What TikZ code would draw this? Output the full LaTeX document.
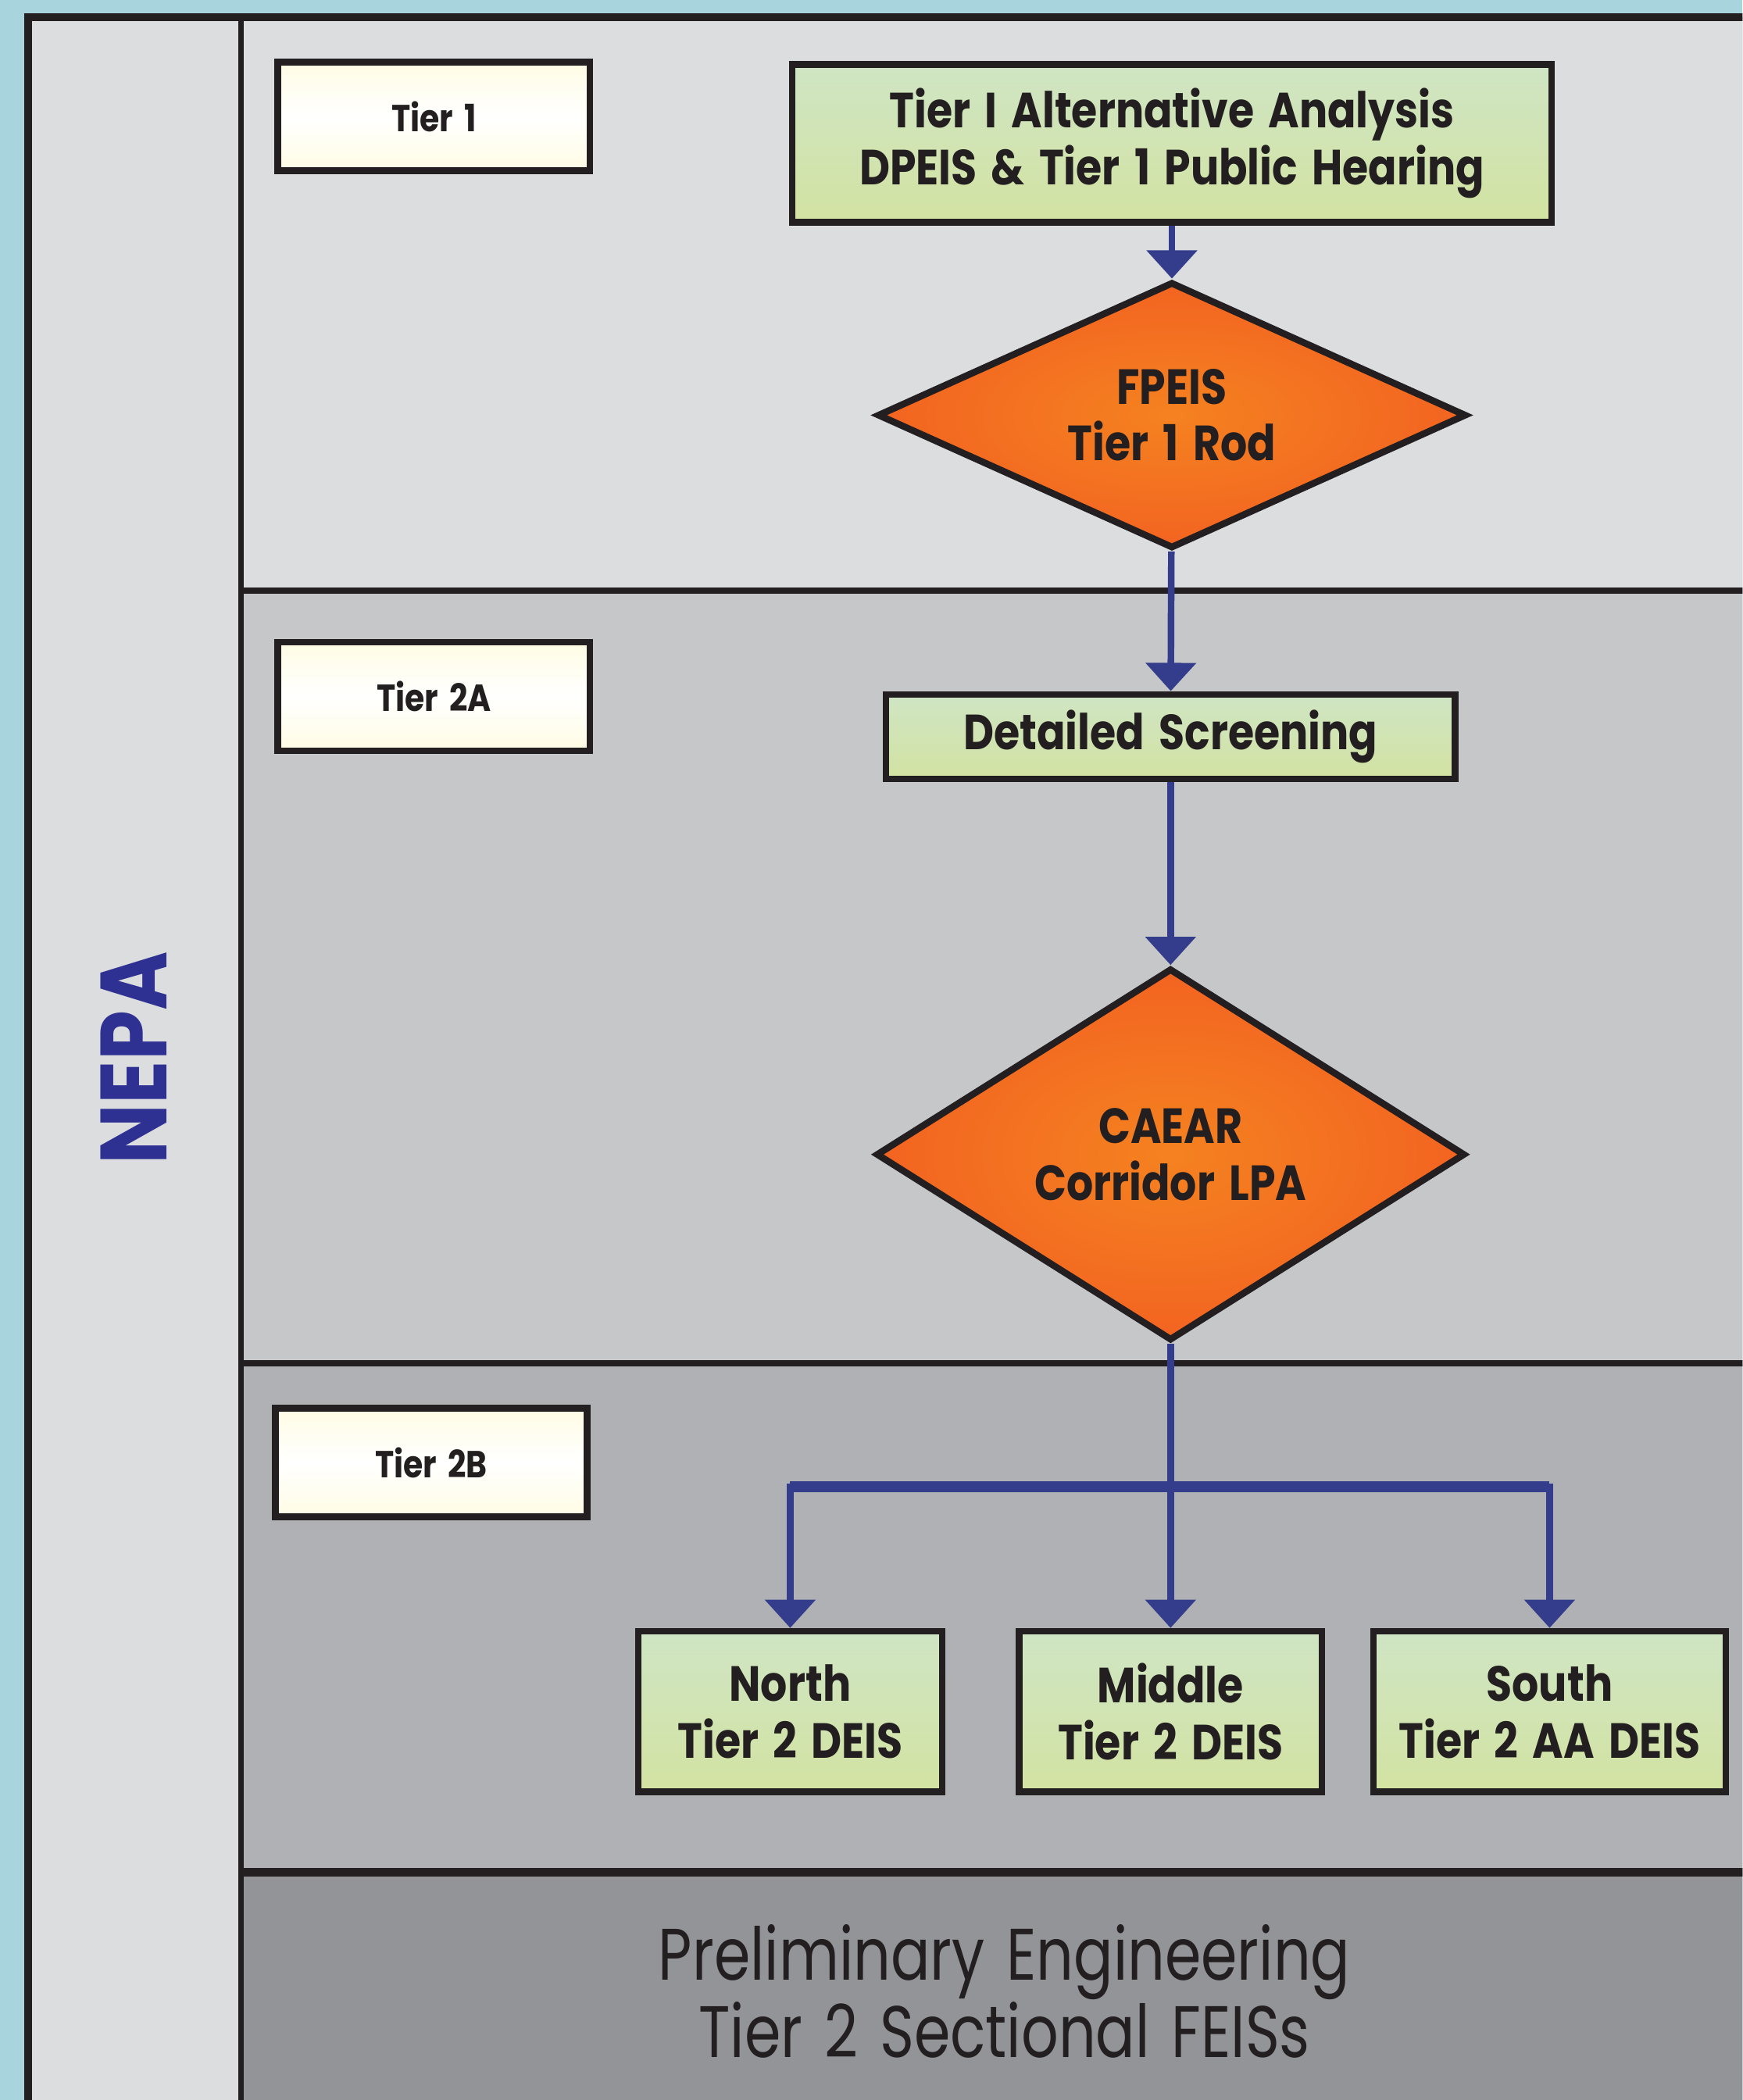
\documentclass[tikz,border=0pt]{standalone}
\usepackage{fontspec}
\setmainfont{Poppins}[FakeStretch=0.85, WordSpace=1.6]
\newfontfamily\condfont{Poppins}[FakeStretch=0.8, WordSpace=1.4]
\usetikzlibrary{shapes.geometric,arrows.meta}

\definecolor{skyblue}{HTML}{A8D4DE}
\definecolor{inkblack}{HTML}{231F20}
\definecolor{greyA}{HTML}{DCDDDF}
\definecolor{greyB}{HTML}{C6C7C9}
\definecolor{greyC}{HTML}{B0B1B5}
\definecolor{greyD}{HTML}{939498}
\definecolor{flowblue}{HTML}{333D8C}
\definecolor{nepablue}{HTML}{2E3192}
\definecolor{leafgreen}{HTML}{CFE5C4}
\definecolor{limegreen}{HTML}{D3E3A2}
\definecolor{creamy}{HTML}{FFFCE4}
\definecolor{glowinner}{HTML}{F58220}
\definecolor{glowouter}{HTML}{EE3124}

\pgfdeclareradialshading{glow}{\pgfpoint{0bp}{0bp}}%
  {color(0bp)=(glowinner); color(30bp)=(glowinner!55!glowouter); color(50bp)=(glowouter)}

\tikzset{
  tierbox/.style={draw=inkblack, line width=2.85pt, inner sep=0pt,
    minimum width=4.66cm, minimum height=1.62cm, text=inkblack,
    top color=creamy, bottom color=creamy, middle color=white,
    font={\fontsize{16}{18}\selectfont\bfseries}},
  stepbox/.style={draw=inkblack, line width=2.85pt, inner sep=0pt, align=center,
    top color=leafgreen, bottom color=limegreen, text=inkblack,
    font={\fontsize{21}{24}\selectfont\bfseries}},
  decision/.style={diamond, draw=inkblack, line width=2.85pt, inner sep=0pt,
    align=center, shading=glow, text=inkblack,
    font={\fontsize{21}{24}\selectfont\bfseries}},
  flow/.style={draw=flowblue, line width=2.8pt,
    -{Triangle[width=21pt,length=12pt]}},
  bar/.style={draw=flowblue, line width=4.5pt},
  divider/.style={draw=inkblack, line width=2.85pt},
}

\begin{document}
\begin{tikzpicture}[x=0.02cm,y=-0.02cm]
\useasboundingbox (0,0) rectangle (1301,1568);
\clip (0,0) rectangle (1301,1568);
\fill[skyblue] (0,0) rectangle (1301,1568);

% bands
\fill[greyA] (21,13) rectangle (1340,1600);
\fill[greyA] (180,13) rectangle (1340,441);
\fill[greyB] (180,441) rectangle (1340,1018);
\fill[greyC] (180,1018) rectangle (1340,1398);
\fill[greyD] (180,1398) rectangle (1340,1600);
\draw[inkblack, line width=3.4pt] (21,1600) -- (21,13) -- (1340,13);
\draw[inkblack, line width=2.3pt] (180,13) -- (180,1600);
\draw[divider] (180,441) -- (1340,441);
\draw[divider] (180,1018) -- (1340,1018);
\draw[inkblack, line width=3.4pt] (180,1398) -- (1340,1398);

\node[rotate=90, text=nepablue, font={\fontsize{40}{40}\selectfont\bfseries}]
  (nepa) at (100,790) {NEPA};

% tier 1
\node[tierbox] (tier1) at (324,87) {Tier 1};
\node[stepbox, minimum width=11.34cm, minimum height=2.36cm] (alt) at (875,107)
  {Tier I Alternative Analysis\\DPEIS \& Tier 1 Public Hearing};
\node[decision, aspect=2.2, minimum width=8.8cm, minimum height=3.98cm] (fpeis) at (875,310)
  {FPEIS\\Tier 1 Rod};

% tier 2A
\node[tierbox] (tier2a) at (324,520) {Tier 2A};
\node[stepbox, minimum width=8.5cm, minimum height=1.26cm] (screen) at (874,550)
  {Detailed Screening};
\node[decision, aspect=1.57, minimum width=8.8cm, minimum height=5.56cm] (caear) at (874,862)
  {CAEAR\\Corridor LPA};

% tier 2B
\node[tierbox] (tier2b) at (322,1092) {Tier 2B};
\node[stepbox, minimum width=4.54cm, minimum height=2.4cm] (north) at (590,1278)
  {North\\Tier 2 DEIS};
\node[stepbox, minimum width=4.52cm, minimum height=2.4cm] (middle) at (874,1278)
  {Middle\\Tier 2 DEIS};
\node[stepbox, minimum width=5.26cm, minimum height=2.4cm] (south) at (1157,1278)
  {South\\Tier 2 AA DEIS};

\node[align=center, text=inkblack, font={\condfont\fontsize{31}{33}\selectfont}]
  (prelim) at (750,1487) {Preliminary Engineering\\Tier 2 Sectional FEISs};

% connectors
\coordinate (split) at (874,1110);
\draw[flow] (alt) -- (fpeis);
\draw[flow] (fpeis) -- (screen);
\draw[flow] (screen) -- (caear);
\draw[flow] (caear) -- (middle);
\draw[bar] (split -| north) -- (split -| south);
\draw[flow] (split) -| (north.north);
\draw[flow] (split) -| (south.north);
\end{tikzpicture}
\end{document}
